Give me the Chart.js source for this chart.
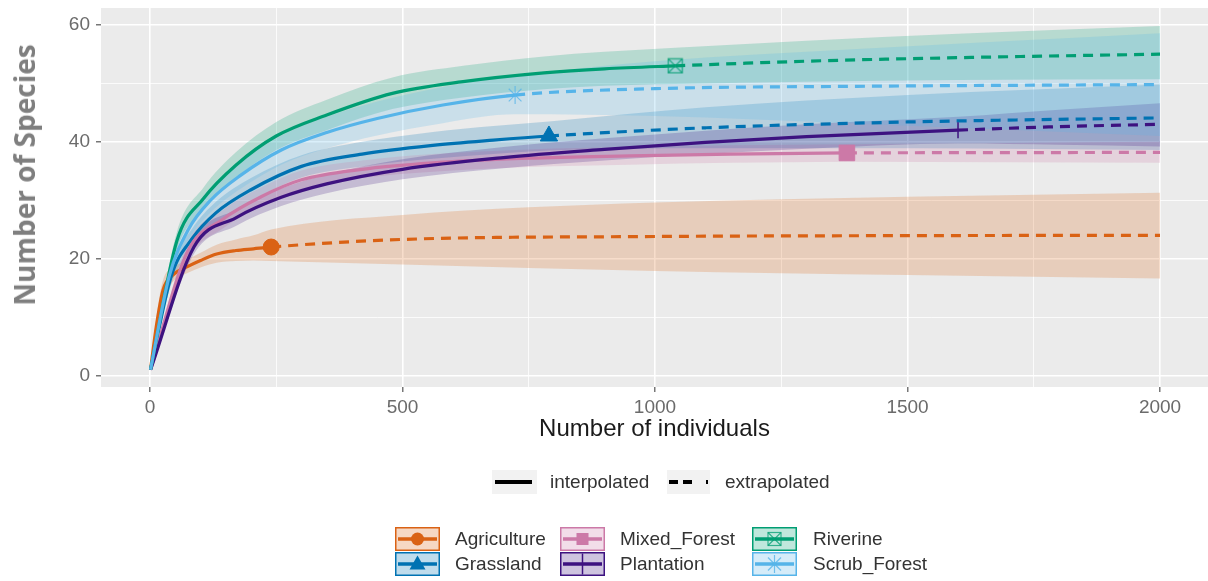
<!DOCTYPE html>
<html>
<head>
<meta charset="utf-8">
<script src="https://cdn.jsdelivr.net/npm/chart.js@4.4.1/dist/chart.umd.min.js"></script>
<style>
  body { margin: 0; background: #fff; }
  #wrap { position: relative; width: 1208px; height: 581px; font-family: "Liberation Sans", Arial, sans-serif; }
  #chart { position: absolute; left: 0; top: 0; }
  .ytitle {
    position: absolute; left: 24px; top: 175px;
    transform: translate(-50%, -50%) rotate(-90deg);
    font: bold 28px "Open Sans", sans-serif; color: #7f7f7f;
    white-space: nowrap; line-height: 1;
  }
  .key { position: absolute; }
  .lab { position: absolute; font-size: 19px; color: #333; line-height: 24px; white-space: nowrap; }
</style>
</head>
<body>
<div id="wrap">
  <canvas id="chart" width="1208" height="581"></canvas>
  <div class="ytitle">Number of Species</div>
  <div id="legend"></div>
</div>
<script>
// axis ticks
const xTicks = [0, 250, 500, 750, 1000, 1250, 1500, 1750, 2000];
const xLabels = ["0", "", "500", "", "1000", "", "1500", "", "2000"];
const yTicks = [0, 10, 20, 30, 40, 50, 60];
const yLabels = ["0", "", "20", "", "40", "", "60"];

// Agriculture
const agriX = [1, 13, 26, 45, 73, 100, 132, 170, 205, 240, 500, 1000, 1500, 2000];
const agriY = [1, 8.7, 14.7, 17.2, 18.6, 19.7, 20.8, 21.4, 21.7, 22.0, 23.3, 23.8, 23.95, 24.0];
const agriLo = [1, 7.2, 13.0, 16.0, 17.5, 18.5, 19.3, 19.6, 19.7, 19.6, 19.0, 17.9, 17.2, 16.6];
const agriHi = [1, 10.2, 16.4, 18.4, 19.8, 21.0, 22.4, 23.3, 24.0, 25.0, 27.5, 29.6, 30.6, 31.3];
const agriN = 240;

// Grassland
const grassX = [1, 42, 84, 130, 200, 300, 420, 560, 680, 790, 1100, 1500, 2000];
const grassY = [1, 17, 23.5, 27.8, 31.8, 35.8, 37.9, 39.4, 40.3, 41, 42.4, 43.4, 44.1];
const grassLo = [1, 15.6, 21.8, 25.9, 29.8, 33.9, 35.8, 37.1, 37.9, 38.5, 38.9, 38.9, 38.6];
const grassHi = [1, 18.4, 25.2, 29.7, 33.8, 37.7, 40.0, 41.7, 42.7, 43.5, 45.9, 48.0, 49.8];
const grassN = 790;

// Mixed_Forest
const mixedX = [1, 73, 145, 220, 300, 420, 560, 750, 950, 1150, 1380, 1700, 2000];
const mixedY = [1, 21, 26.8, 30.6, 33.5, 35.3, 36.4, 37.2, 37.6, 37.9, 38.1, 38.15, 38.2];
const mixedLo = [1, 19.6, 25.2, 29.0, 31.9, 33.8, 34.9, 35.7, 36.1, 36.4, 36.6, 36.5, 36.4];
const mixedHi = [1, 22.4, 28.4, 32.2, 35.1, 36.8, 37.9, 38.7, 39.1, 39.4, 39.6, 39.8, 40.0];
const mixedN = 1380;

// Plantation
const plantX = [1, 87, 170, 260, 350, 500, 700, 900, 1100, 1300, 1600, 1800, 2000];
const plantY = [1, 22, 27, 30.5, 32.8, 35.3, 37.3, 38.7, 39.9, 40.9, 42, 42.6, 43];
const plantLo = [1, 20.8, 25.6, 29.0, 31.2, 33.6, 35.5, 36.8, 37.9, 38.8, 39.7, 39.5, 39.2];
const plantHi = [1, 23.2, 28.4, 32.0, 34.4, 37.0, 39.1, 40.6, 41.9, 43.0, 44.3, 45.5, 46.6];
const plantN = 1600;

// Riverine
const riverX = [1, 53, 106, 170, 250, 350, 480, 620, 780, 900, 1040, 1300, 1600, 2000];
const riverY = [1, 23, 30.3, 36, 41, 44.6, 48.3, 50.3, 51.8, 52.5, 53, 53.8, 54.4, 55];
const riverLo = [1, 21.5, 28.4, 33.8, 38.6, 42.0, 45.6, 47.6, 49.0, 49.6, 49.9, 50.3, 50.6, 50.7];
const riverHi = [1, 24.5, 32.2, 38.2, 43.4, 47.2, 51.0, 53.0, 54.6, 55.4, 56.1, 57.3, 58.5, 59.8];
const riverN = 1040;

// Scrub_Forest
const scrubX = [1, 38, 76, 120, 180, 260, 350, 450, 580, 723, 1000, 1400, 2000];
const scrubY = [1, 17, 25, 30, 34.3, 38.6, 41.6, 44, 46.3, 48, 49.1, 49.5, 49.8];
const scrubLo = [1, 15.6, 23.2, 27.9, 32.0, 36.1, 38.9, 41.1, 43.2, 44.7, 44.4, 43.1, 41.0];
const scrubHi = [1, 18.4, 26.8, 32.1, 36.6, 41.1, 44.3, 46.9, 49.4, 51.3, 53.8, 55.9, 58.6];
const scrubN = 723;

function fade(hex, a) {
  const n = parseInt(hex.slice(1), 16);
  return `rgba(${(n >> 16) & 255}, ${(n >> 8) & 255}, ${n & 255}, ${a})`;
}

// boxed X marker (ggplot shape 7)
function boxCross(color) {
  const c = document.createElement("canvas");
  c.width = 17;
  c.height = 17;
  const g = c.getContext("2d");
  g.strokeStyle = color;
  g.lineWidth = 1.4;
  g.strokeRect(1.5, 1.5, 14, 14);
  g.beginPath();
  g.moveTo(1.5, 1.5);
  g.lineTo(15.5, 15.5);
  g.moveTo(15.5, 1.5);
  g.lineTo(1.5, 15.5);
  g.stroke();
  return c;
}

const series = [
  { name: "Agriculture", color: "#DA6214", x: agriX, y: agriY, lo: agriLo, hi: agriHi, n: agriN, marker: "circle", r: 8, key: "circle" },
  { name: "Grassland", color: "#0072B2", x: grassX, y: grassY, lo: grassLo, hi: grassHi, n: grassN, marker: "triangle", r: 10, key: "triangle" },
  { name: "Mixed_Forest", color: "#CC79A7", x: mixedX, y: mixedY, lo: mixedLo, hi: mixedHi, n: mixedN, marker: "rect", r: 11, key: "square" },
  { name: "Plantation", color: "#3D1280", x: plantX, y: plantY, lo: plantLo, hi: plantHi, n: plantN, marker: "cross", r: 8, bw: 1.5, key: "plus" },
  { name: "Riverine", color: "#009E73", x: riverX, y: riverY, lo: riverLo, hi: riverHi, n: riverN, marker: boxCross("rgba(0,158,115,0.75)"), r: 8, key: "boxx" },
  { name: "Scrub_Forest", color: "#56B4E9", x: scrubX, y: scrubY, lo: scrubLo, hi: scrubHi, n: scrubN, marker: "star", r: 9, bw: 1.2, mcol: "rgba(86,180,233,0.75)", key: "star" },
];

const datasets = [];
series.forEach((s, i) => {
  const pts = (arr) => s.x.map((v, k) => ({ x: v, y: arr[k] }));
  datasets.push({
    label: s.name + " lo",
    data: pts(s.lo),
    borderColor: "transparent",
    borderWidth: 0,
    pointRadius: 0,
    fill: false,
    cubicInterpolationMode: "monotone",
    order: 20 + (5 - i),
  });
  datasets.push({
    label: s.name + " hi",
    data: pts(s.hi),
    borderColor: "transparent",
    borderWidth: 0,
    pointRadius: 0,
    fill: "-1",
    backgroundColor: fade(s.color, 0.22),
    cubicInterpolationMode: "monotone",
    order: 20 + (5 - i),
  });
  datasets.push({
    label: s.name,
    data: pts(s.y),
    borderColor: s.color,
    borderWidth: 3.2,
    fill: false,
    cubicInterpolationMode: "monotone",
    order: 5 - i,
    segment: {
      borderDash: (c) => (c.p0.parsed.x >= s.n ? [10, 7] : undefined),
    },
    pointRadius: (c) => (c.raw && c.raw.x === s.n ? s.r : 0),
    pointStyle: s.marker,
    pointBackgroundColor: s.color,
    pointBorderColor: s.mcol || s.color,
    pointBorderWidth: s.bw || 1,
  });
});

const panelBg = {
  id: "panelBg",
  beforeDraw(chart) {
    const { ctx, chartArea: a } = chart;
    ctx.save();
    ctx.fillStyle = "#EBEBEB";
    ctx.fillRect(a.left, a.top, a.right - a.left, a.bottom - a.top);
    ctx.restore();
  },
};

const tickFont = { family: "Liberation Sans", size: 19 };

new Chart(document.getElementById("chart"), {
  type: "line",
  data: { datasets: datasets },
  plugins: [panelBg],
  options: {
    responsive: false,
    animation: false,
    events: [],
    layout: { padding: { top: 8, right: 0, bottom: 134, left: 0 } },
    plugins: { legend: { display: false }, tooltip: { enabled: false } },
    scales: {
      x: {
        type: "linear",
        min: -97,
        max: 2095,
        afterBuildTicks: (scale) => {
          scale.ticks = xTicks.map((v) => ({ value: v }));
        },
        afterFit: (scale) => {
          scale.height = 60;
          scale.paddingLeft = 0;
          scale.paddingRight = 0;
        },
        ticks: {
          autoSkip: false,
          maxRotation: 0,
          padding: 4,
          color: "#6b6b6b",
          font: tickFont,
          callback: (v, i) => xLabels[i],
        },
        grid: {
          color: "#ffffff",
          lineWidth: (c) => (xLabels[c.index] !== "" ? 1.6 : 0.8),
          tickColor: (c) => (xLabels[c.index] !== "" ? "#555555" : "rgba(0,0,0,0)"),
          tickLength: 5,
          tickWidth: 1.2,
        },
        border: { display: false },
        title: {
          display: true,
          text: "Number of individuals",
          color: "#1a1a1a",
          font: { family: "Liberation Sans", size: 24 },
          padding: { top: 0, bottom: 3 },
        },
      },
      y: {
        type: "linear",
        min: -1.95,
        max: 62.9,
        afterBuildTicks: (scale) => {
          scale.ticks = yTicks.map((v) => ({ value: v }));
        },
        afterFit: (scale) => {
          scale.width = 101;
          scale.paddingTop = 0;
          scale.paddingBottom = 0;
        },
        ticks: {
          padding: 6,
          color: "#6b6b6b",
          font: tickFont,
          callback: (v, i) => yLabels[i],
        },
        grid: {
          color: "#ffffff",
          lineWidth: (c) => (yLabels[c.index] !== "" ? 1.6 : 0.8),
          tickColor: (c) => (yLabels[c.index] !== "" ? "#555555" : "rgba(0,0,0,0)"),
          tickLength: 5,
          tickWidth: 1.2,
        },
        border: { display: false },
        title: { display: false },
      },
    },
  },
});

// ---- legends (ggplot style, below the panel) ----
function keyIcon(s) {
  const c = s.color;
  let mark = "";
  if (s.key === "circle") mark = `<circle cx="22.5" cy="12" r="6.5" fill="${c}"/>`;
  if (s.key === "triangle") mark = `<polygon points="22.5,3.5 30.5,17.5 14.5,17.5" fill="${c}"/>`;
  if (s.key === "square") mark = `<rect x="16.5" y="6" width="12" height="12" fill="${c}"/>`;
  if (s.key === "plus") mark = `<line x1="22.5" y1="1.5" x2="22.5" y2="22.5" stroke="${c}" stroke-width="1.5"/>`;
  if (s.key === "boxx")
    mark = `<g stroke="${fade(c, 0.75)}" stroke-width="1.2" fill="none"><rect x="16" y="5.5" width="13" height="13"/><line x1="16" y1="5.5" x2="29" y2="18.5"/><line x1="29" y1="5.5" x2="16" y2="18.5"/></g>`;
  if (s.key === "star")
    mark = `<g stroke="${fade(c, 0.8)}" stroke-width="1.2"><line x1="22.5" y1="3" x2="22.5" y2="21"/><line x1="13.5" y1="12" x2="31.5" y2="12"/><line x1="16" y1="5.5" x2="29" y2="18.5"/><line x1="29" y1="5.5" x2="16" y2="18.5"/></g>`;
  return `<svg width="45" height="24">
    <rect x="0.75" y="0.75" width="43.5" height="22.5" fill="${fade(c, 0.25)}" stroke="${c}" stroke-width="1.5"/>
    <line x1="3" y1="12" x2="42" y2="12" stroke="${c}" stroke-width="3.5"/>
    ${mark}
  </svg>`;
}

const legend = document.getElementById("legend");
let html = "";
// line type legend
html += `<svg class="key" style="left:492px;top:470px" width="45" height="24">
  <rect width="45" height="24" fill="#F2F2F2"/>
  <line x1="3" y1="12" x2="40" y2="12" stroke="#000" stroke-width="4"/></svg>`;
html += `<div class="lab" style="left:550px;top:470px">interpolated</div>`;
html += `<svg class="key" style="left:667px;top:470px" width="43" height="24">
  <rect width="43" height="24" fill="#F2F2F2"/>
  <line x1="2" y1="12" x2="41" y2="12" stroke="#000" stroke-width="4" stroke-dasharray="9 5 9 14 2 4"/></svg>`;
html += `<div class="lab" style="left:725px;top:470px">extrapolated</div>`;

// group legend: 3 columns x 2 rows
const keyLeft = [395, 560, 752];
const textLeft = [455, 620, 813];
const rowTop = [527, 552];
series.forEach((s, i) => {
  const col = Math.floor(i / 2);
  const row = i % 2;
  html += `<div class="key" style="left:${keyLeft[col]}px;top:${rowTop[row]}px;line-height:0">${keyIcon(s)}</div>`;
  html += `<div class="lab" style="left:${textLeft[col]}px;top:${rowTop[row]}px">${s.name}</div>`;
});
legend.innerHTML = html;
</script>
</body>
</html>
